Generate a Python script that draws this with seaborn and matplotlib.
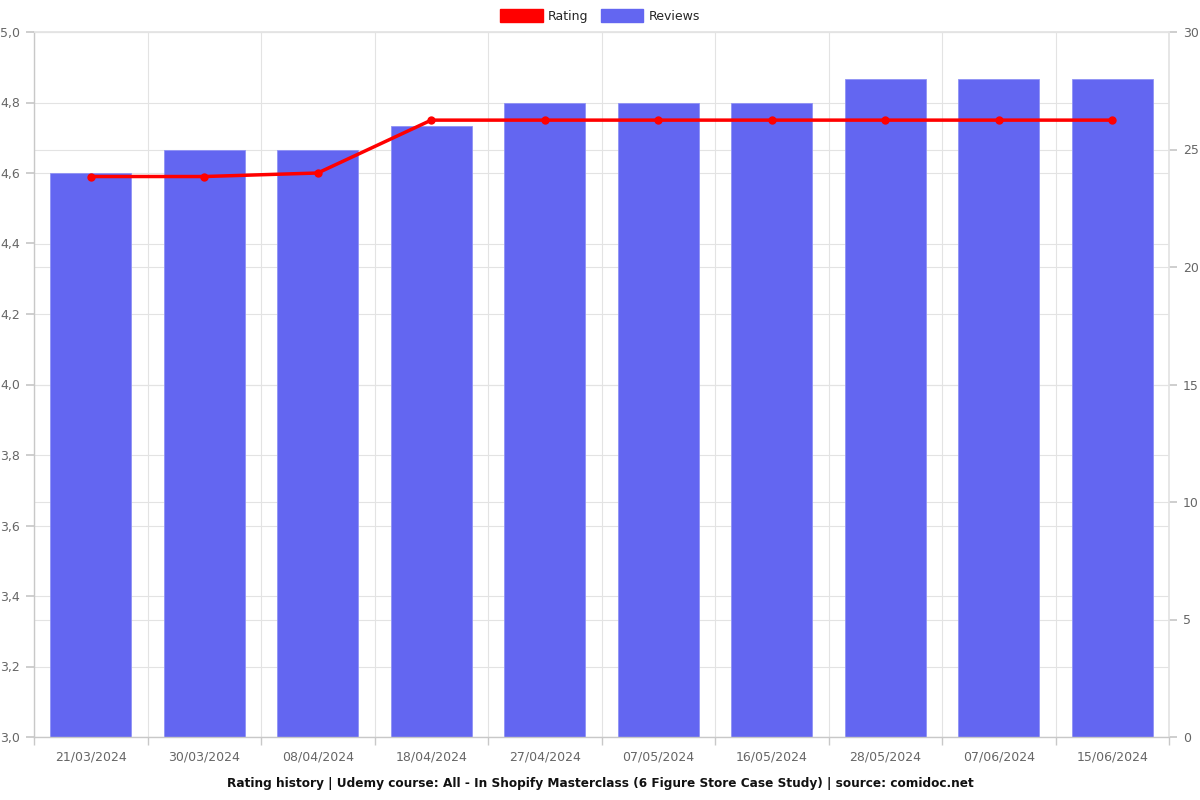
import matplotlib
matplotlib.use("Agg")
import matplotlib.pyplot as plt
import matplotlib.ticker as mticker
from matplotlib.patches import Patch
import seaborn as sns
import pandas as pd

dates = ["21/03/2024", "30/03/2024", "08/04/2024", "18/04/2024", "27/04/2024",
         "07/05/2024", "16/05/2024", "28/05/2024", "07/06/2024", "15/06/2024"]
reviews = [24, 25, 25, 26, 27, 27, 27, 28, 28, 28]
rating = [4.59, 4.59, 4.60, 4.75, 4.75, 4.75, 4.75, 4.75, 4.75, 4.75]

df = pd.DataFrame({"date": dates, "reviews": reviews, "rating": rating})

sns.set_theme(style="white")
plt.rcParams['font.family'] = ['DejaVu Sans']

BAR = "#6366F1"
RED = "#FF0000"
GRID = "#e3e3e3"
AXC = "#c8c8c8"
TXT = "#666666"
FS = 9

fig = plt.figure(figsize=(12, 8), dpi=100)
ax = fig.add_axes([34/1200, 1-737/800, (1169-34)/1200, (737-32)/800])

# bars on primary axis (scale shown on right)
sns.barplot(data=df, x="date", y="reviews", color=BAR, saturation=1, width=0.71,
            ax=ax, zorder=2, edgecolor="#8f92f5", linewidth=0.6)
ax.set_ylim(0, 30)
ax.set_xlim(-0.5, len(dates) - 0.5)

# horizontal grid for both scales
for v in range(0, 31, 5):
    ax.axhline(v, color=GRID, lw=0.8, zorder=0)
for i in range(11):
    ax.axhline(i * 3, color=GRID, lw=0.8, zorder=0)
# vertical grid at category boundaries
ax.xaxis.set_minor_locator(mticker.FixedLocator([i - 0.5 for i in range(len(dates) + 1)]))
ax.grid(which="minor", axis="x", color=GRID, lw=0.8, zorder=0)
ax.set_axisbelow(True)
ax.set_xlabel("")
ax.set_ylabel("")

# rating line on twin axis (scale on left)
ax2 = ax.twinx()
sns.lineplot(x=list(range(len(dates))), y=rating, ax=ax2, color=RED, lw=2.5,
             marker="o", markersize=6, markeredgewidth=0, zorder=3)
ax2.set_ylim(3.0, 5.0)
ax2.set_ylabel("")

# primary axis ticks on right
ax.yaxis.tick_right()
ax.set_yticks(range(0, 31, 5))
ax.tick_params(axis="y", which="major", length=6, color=AXC, labelcolor=TXT, labelsize=FS,
               pad=4, right=True, left=False, labelright=True, labelleft=False)
ax.tick_params(axis="x", which="major", length=0, labelcolor=TXT, labelsize=FS, pad=10)
ax.tick_params(axis="x", which="minor", length=6, color=AXC, bottom=True)

for s in ["left", "bottom"]:
    ax.spines[s].set_color(AXC)
    ax.spines[s].set_linewidth(1)
ax.spines["right"].set_color(GRID)
ax.spines["top"].set_color(GRID)

# twin axis ticks on left
ax2.yaxis.tick_left()
ax2.set_yticks([3.0 + 0.2 * i for i in range(11)])
ax2.yaxis.set_major_formatter(mticker.FuncFormatter(lambda v, p: f"{v:.1f}".replace(".", ",")))
ax2.tick_params(axis="y", length=6, color=AXC, labelcolor=TXT, labelsize=FS, pad=4,
                left=True, right=False, labelleft=True, labelright=False)
for s in ax2.spines.values():
    s.set_visible(False)

handles = [Patch(facecolor=RED, edgecolor=RED), Patch(facecolor=BAR, edgecolor=BAR)]
fig.legend(handles, ["Rating", "Reviews"], loc="center", bbox_to_anchor=(0.5, 1 - 16/800),
           ncol=2, frameon=False, fontsize=FS, handlelength=3.4, handleheight=1.2,
           columnspacing=1.0, handletextpad=0.4)

fig.text(0.5, 1 - 783/800,
         "Rating history | Udemy course: All - In Shopify Masterclass (6 Figure Store Case Study) | source: comidoc.net",
         ha="center", va="center", fontsize=8.7, fontweight="bold", color="#111111")

fig.savefig("out.png", dpi=100)
